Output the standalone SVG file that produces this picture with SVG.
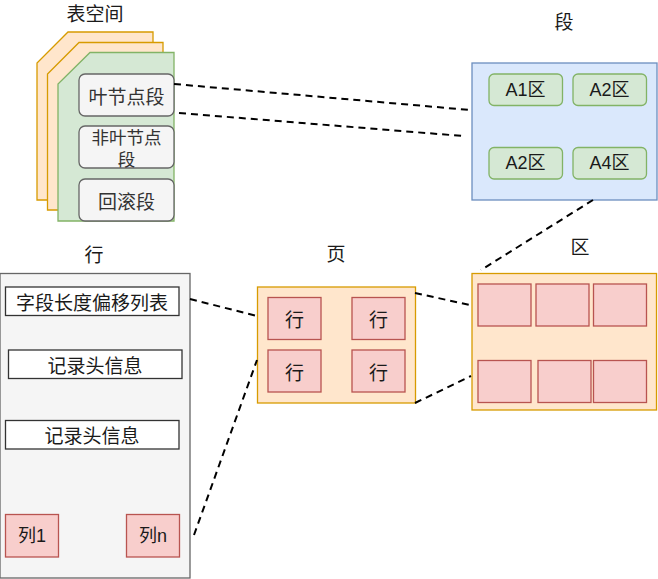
<svg xmlns="http://www.w3.org/2000/svg" width="658" height="579" viewBox="0 0 658 579">
<defs>
<style>
text{font-family:"Noto Sans CJK SC","Liberation Sans",sans-serif;font-size:19px;fill:#1a1a1a;text-anchor:middle;dominant-baseline:central}
.lat{font-family:"Liberation Sans","Noto Sans CJK SC",sans-serif;font-size:18px}
.orange{fill:#ffe6cc;stroke:#d79b00;stroke-width:1.3}
.green{fill:#d5e8d4;stroke:#82b366;stroke-width:1.3}
.gray{fill:#f5f5f5;stroke:#666666;stroke-width:1.3}
.blue{fill:#dae8fc;stroke:#6c8ebf;stroke-width:1.3}
.red{fill:#f8cecc;stroke:#b85450;stroke-width:1.3}
.white{fill:#ffffff;stroke:#333333;stroke-width:1.3}
.dark{fill:#333333}
.conn{stroke:#000;stroke-width:2;stroke-dasharray:7 5;fill:none}
</style>
</defs>
<rect width="658" height="579" fill="#ffffff"/>

<g id="tablespace">
<text x="95" y="12">表空间</text>
<polygon class="orange" points="68,32 153,32 153,200 37,200 37,63"/>
<polygon class="orange" points="79,42.5 163,42.5 163,210 47.5,210 47.5,74"/>
<polygon class="green" points="90,52.5 174,52.5 174,221 58,221 58,84"/>
</g>
<g id="leaf-seg">
<rect class="gray" x="79" y="74" width="95" height="42" rx="6"/>
<text class="dark" x="126.5" y="95">叶节点段</text>
</g>
<g id="nonleaf-seg">
<rect class="gray" x="79" y="126" width="95" height="42" rx="6"/>
<text class="dark" x="126.5" y="136.5" style="font-size:17.5px">非叶节点</text>
<text class="dark" x="126.5" y="158" style="font-size:17.5px">段</text>
</g>
<g id="rollback-seg">
<rect class="gray" x="79" y="179" width="95" height="42" rx="6"/>
<text class="dark" x="126.5" y="200">回滚段</text>
</g>

<g id="segment">
<text x="564" y="20">段</text>
<rect class="blue" x="472" y="63" width="185" height="137"/>
<rect class="green" x="489" y="74" width="73.5" height="31.5" rx="5"/>
<text class="lat" x="525.5" y="90">A1区</text>
<rect class="green" x="573" y="74" width="73.5" height="31.5" rx="5"/>
<text class="lat" x="609.5" y="90">A2区</text>
<rect class="green" x="489" y="147.5" width="73.5" height="31.5" rx="5"/>
<text class="lat" x="525.5" y="163">A2区</text>
<rect class="green" x="573" y="147.5" width="73.5" height="31.5" rx="5"/>
<text class="lat" x="609.5" y="163">A4区</text>
</g>

<g id="row">
<text x="94" y="253">行</text>
<rect class="gray" x="0" y="273.5" width="190" height="304.5"/>
<rect class="white" x="5.5" y="287" width="173.5" height="28.5"/>
<text x="92" y="301">字段长度偏移列表</text>
<rect class="white" x="8.5" y="350" width="173.5" height="28.5"/>
<text x="95" y="364">记录头信息</text>
<rect class="white" x="5.5" y="420.5" width="173.5" height="28.5"/>
<text x="92" y="434.5">记录头信息</text>
<rect class="red" x="5.5" y="514.5" width="53" height="42.5"/>
<text class="lat" x="32" y="535.5">列1</text>
<rect class="red" x="126.5" y="514.5" width="53" height="42.5"/>
<text class="lat" x="153" y="535.5">列n</text>
</g>

<g id="page">
<text x="336" y="252">页</text>
<rect class="orange" x="257.5" y="287" width="158" height="116"/>
<rect class="red" x="268" y="297.5" width="53" height="42"/>
<text x="294.5" y="318.5">行</text>
<rect class="red" x="352" y="297.5" width="53" height="42"/>
<text x="378.5" y="318.5">行</text>
<rect class="red" x="268" y="350" width="53" height="42"/>
<text x="294.5" y="371">行</text>
<rect class="red" x="352" y="350" width="53" height="42"/>
<text x="378.5" y="371">行</text>
</g>

<g id="extent">
<text x="580" y="245">区</text>
<rect class="orange" x="472" y="273.5" width="184.5" height="136.5"/>
<rect class="red" x="478" y="284" width="53" height="42"/>
<rect class="red" x="536" y="284" width="53" height="42"/>
<rect class="red" x="593.5" y="284" width="53" height="42"/>
<rect class="red" x="478" y="360.5" width="53" height="42"/>
<rect class="red" x="538" y="360.5" width="53" height="42"/>
<rect class="red" x="593.5" y="360.5" width="53" height="42"/>
</g>

<g id="connectors">
<line class="conn" x1="174" y1="84" x2="470" y2="110"/>
<line class="conn" x1="179" y1="113" x2="463" y2="136"/>
<line class="conn" x1="593" y1="200" x2="481" y2="270"/>
<line class="conn" x1="190" y1="299" x2="257" y2="316"/>
<line class="conn" x1="194" y1="535" x2="257" y2="360"/>
<line class="conn" x1="415" y1="293" x2="470" y2="305"/>
<line class="conn" x1="415" y1="403" x2="471" y2="376"/>
</g>
</svg>
